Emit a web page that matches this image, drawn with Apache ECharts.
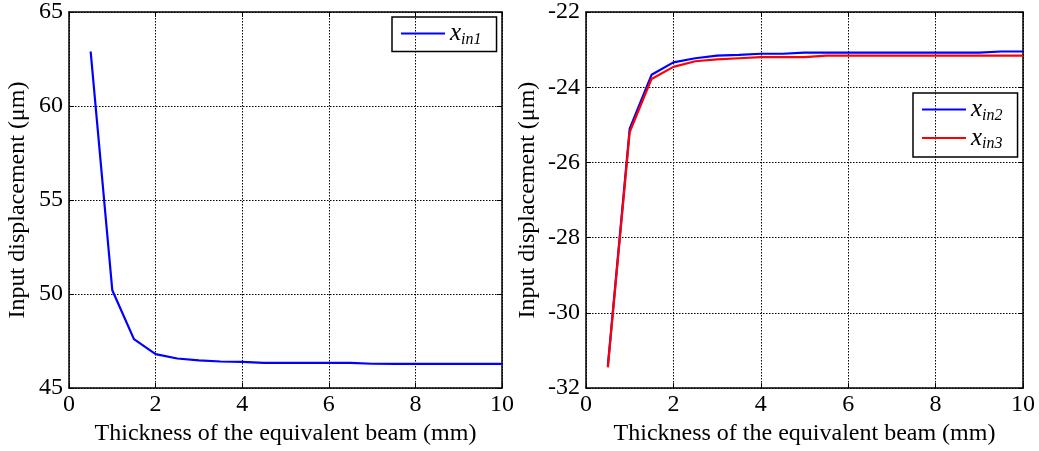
<!DOCTYPE html>
<html>
<head>
<meta charset="utf-8">
<script src="https://cdn.jsdelivr.net/npm/echarts@6/dist/echarts.min.js"></script>
<style>
  html, body { margin: 0; padding: 0; background: #fff; }
  #main { width: 1039px; height: 451px; }
</style>
</head>
<body>
<div id="main"></div>
<script>
// thickness of the equivalent beam (mm)
var thickness = [0.5, 1, 1.5, 2, 2.5, 3, 3.5, 4, 4.5, 5, 5.5, 6, 6.5, 7, 7.5, 8, 8.5, 9, 9.5, 10];
// input displacement (um)
var xin1 = [62.9, 50.2, 47.6, 46.8, 46.57, 46.47, 46.41, 46.39, 46.34, 46.34, 46.34, 46.34, 46.34, 46.29, 46.28, 46.28, 46.28, 46.28, 46.28, 46.28];
var xin2 = [-31.41, -25.1, -23.67, -23.34, -23.23, -23.16, -23.14, -23.11, -23.11, -23.08, -23.08, -23.08, -23.08, -23.08, -23.08, -23.08, -23.08, -23.08, -23.05, -23.05];
var xin3 = [-31.45, -25.19, -23.78, -23.46, -23.31, -23.26, -23.23, -23.2, -23.2, -23.2, -23.16, -23.16, -23.16, -23.16, -23.16, -23.16, -23.16, -23.16, -23.16, -23.16];

function pairs(ys) {
  return thickness.map(function (x, i) { return [x, ys[i]]; });
}

var font = 'Liberation Serif, Times New Roman, serif';
var fs = 24;
var xTitle = 'Thickness of the equivalent beam (mm)';
var yTitle = 'Input displacement (\u03bcm)';

function legendFmt(name) {
  return '{x|x}{s|' + name.slice(1) + '}';
}
var legendRich = {
  x: { fontFamily: font, fontStyle: 'italic', fontSize: 25, color: '#000' },
  s: { fontFamily: font, fontStyle: 'italic', fontSize: 16, color: '#000', padding: [12, 0, 0, 0] }
};

function xAx(gi, bottom) {
  return {
    type: 'value', gridIndex: gi, min: 0, max: 10, interval: 2,
    position: bottom ? 'bottom' : 'top',
    name: bottom ? xTitle : '', nameLocation: 'middle', nameGap: 32,
    nameTextStyle: { fontFamily: font, fontSize: fs, color: '#000' },
    axisLine: { show: true, onZero: false, lineStyle: { color: '#000', width: 1.5 } },
    axisTick: { show: true, inside: true, length: 5, lineStyle: { color: '#000' } },
    axisLabel: { show: bottom, fontFamily: font, fontSize: fs, color: '#000', margin: 5 },
    splitLine: { show: bottom, lineStyle: { color: '#000', type: [1.5, 1.5], width: 1 } }
  };
}
function yAx(gi, left, min, max, interval, gap) {
  return {
    type: 'value', gridIndex: gi, min: min, max: max, interval: interval,
    position: left ? 'left' : 'right',
    name: left ? yTitle : '', nameLocation: 'middle', nameGap: gap,
    nameTextStyle: { fontFamily: font, fontSize: fs, color: '#000' },
    axisLine: { show: true, onZero: false, lineStyle: { color: '#000', width: 1.5 } },
    axisTick: { show: true, inside: true, length: 5, lineStyle: { color: '#000' } },
    axisLabel: { show: left, fontFamily: font, fontSize: fs, color: '#000', margin: 6 },
    splitLine: { show: left, lineStyle: { color: '#000', type: [1.5, 1.5], width: 1 } }
  };
}

var chart = echarts.init(document.getElementById('main'), null, { renderer: 'canvas' });
chart.setOption({
  animation: false,
  backgroundColor: '#fff',
  grid: [
    { left: 69, top: 10, width: 433, height: 378 },
    { left: 586, top: 11, width: 437, height: 378 }
  ],
  legend: [
    {
      data: ['xin1'], left: 392, top: 17, orient: 'vertical',
      borderColor: '#000', borderWidth: 1.5, padding: [4, 15, 4, 9],
      itemWidth: 44, itemHeight: 2, icon: 'rect', itemGap: 6,
      formatter: legendFmt, textStyle: { rich: legendRich }
    },
    {
      data: ['xin2', 'xin3'], left: 913, top: 93, orient: 'vertical',
      borderColor: '#000', borderWidth: 1.5, padding: [4, 15, 5, 9],
      itemWidth: 44, itemHeight: 2, icon: 'rect', itemGap: 2,
      formatter: legendFmt, textStyle: { rich: legendRich }
    }
  ],
  xAxis: [xAx(0, true), xAx(1, true), xAx(0, false), xAx(1, false)],
  yAxis: [
    yAx(0, true, 45, 65, 5, 39),
    yAx(1, true, -32, -22, 2, 46),
    yAx(0, false, 45, 65, 5, 0),
    yAx(1, false, -32, -22, 2, 0)
  ],
  series: [
    {
      name: 'xin1', type: 'line', xAxisIndex: 0, yAxisIndex: 0, data: pairs(xin1),
      showSymbol: false, symbol: 'none', lineStyle: { color: '#0000ff', width: 2.2 }, itemStyle: { color: '#0000ff' }
    },
    {
      name: 'xin2', type: 'line', xAxisIndex: 1, yAxisIndex: 1, data: pairs(xin2),
      showSymbol: false, symbol: 'none', lineStyle: { color: '#0000ff', width: 2.2 }, itemStyle: { color: '#0000ff' }
    },
    {
      name: 'xin3', type: 'line', xAxisIndex: 1, yAxisIndex: 1, data: pairs(xin3),
      showSymbol: false, symbol: 'none', lineStyle: { color: '#ff0000', width: 2.2 }, itemStyle: { color: '#ff0000' }
    }
  ]
});
</script>
</body>
</html>
